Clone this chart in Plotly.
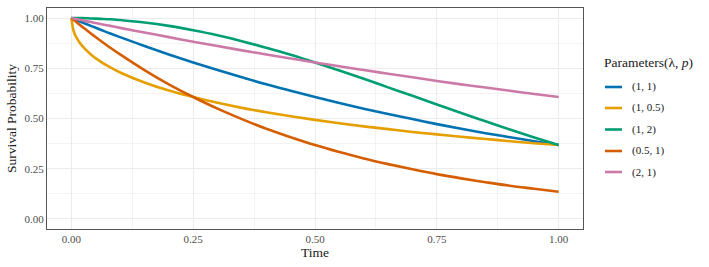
import plotly.graph_objects as go

time = [0, 0.005, 0.01, 0.02, 0.04, 0.06, 0.08, 0.1, 0.15, 0.2, 0.25, 0.3, 0.35, 0.4,
        0.45, 0.5, 0.55, 0.6, 0.65, 0.7, 0.75, 0.8, 0.85, 0.9, 0.95, 1.0]

s_1_1 = [1, .995, .990, .980, .961, .942, .923, .905, .861, .819, .779, .741, .705, .670,
         .638, .607, .577, .549, .522, .497, .472, .449, .427, .407, .387, .368]
s_1_05 = [1, .932, .905, .868, .819, .783, .754, .729, .679, .639, .607, .578, .553, .531,
          .511, .493, .476, .461, .447, .433, .421, .409, .398, .387, .377, .368]
s_1_2 = [1, 1.0, 1.0, 1.0, .998, .996, .994, .990, .978, .961, .939, .914, .885, .852,
         .817, .779, .739, .698, .655, .613, .570, .527, .486, .445, .406, .368]
s_05_1 = [1, .990, .980, .961, .923, .887, .852, .819, .741, .670, .607, .549, .497, .449,
          .407, .368, .333, .301, .273, .247, .223, .202, .183, .165, .150, .135]
s_2_1 = [1, .998, .995, .990, .980, .970, .961, .951, .928, .905, .882, .861, .839, .819,
         .799, .779, .760, .741, .723, .705, .687, .670, .654, .638, .622, .607]

series_names = ["(1, 1)", "(1, 0.5)", "(1, 2)", "(0.5, 1)", "(2, 1)"]
series_values = [s_1_1, s_1_05, s_1_2, s_05_1, s_2_1]
colors = ["#0072B2", "#E69F00", "#009E73", "#D55E00", "#CC79A7"]

x_ticks = [0, 0.25, 0.5, 0.75, 1.0]
x_labels = ["0.00", "0.25", "0.50", "0.75", "1.00"]
y_ticks = [0, 0.25, 0.5, 0.75, 1.0]
y_labels = ["0.00", "0.25", "0.50", "0.75", "1.00"]

W, H = 709, 267
ML, MR, MT, MB = 47, 126, 8, 38
PW, PH = W - ML - MR, H - MT - MB

def px_x(px):
    return (px - ML) / PW

def px_y(py):
    return (H - MB - py) / PH

font_family = "Liberation Serif, Times New Roman, serif"
dark = "#1a1a1a"

fig = go.Figure()
for name, vals, col in zip(series_names, series_values, colors):
    fig.add_trace(go.Scatter(x=time, y=vals, mode="lines", name=name,
                             line=dict(color=col, width=2.6, shape="spline"),
                             showlegend=False))

# manual legend (ggplot style)
annotations = [dict(
    xref="paper", yref="paper", x=px_x(602), y=px_y(62), xanchor="left", yanchor="middle",
    text="Parameters(λ, <i>p</i>)", showarrow=False,
    font=dict(family=font_family, size=13.5, color=dark))]
shapes = []
leg_y = [87, 108, 129.5, 151, 172]
for name, col, ly in zip(series_names, colors, leg_y):
    shapes.append(dict(type="line", xref="paper", yref="paper",
                       x0=px_x(605), x1=px_x(622), y0=px_y(ly), y1=px_y(ly),
                       line=dict(color=col, width=2.6)))
    annotations.append(dict(xref="paper", yref="paper", x=px_x(630), y=px_y(ly),
                            xanchor="left", yanchor="middle", text=name, showarrow=False,
                            font=dict(family=font_family, size=11, color=dark)))

fig.update_layout(
    width=W, height=H,
    margin=dict(l=ML, r=MR, t=MT, b=MB),
    paper_bgcolor="white", plot_bgcolor="white",
    font=dict(family=font_family, color=dark),
    showlegend=False,
    annotations=annotations, shapes=shapes,
    xaxis=dict(
        range=[-0.05, 1.05], tickvals=x_ticks, ticktext=x_labels,
        showgrid=True, gridcolor="#ebebeb", gridwidth=1,
        minor=dict(showgrid=True, gridcolor="#f3f3f3", gridwidth=0.6, dtick=0.125, tick0=0),
        zeroline=False, showline=True, mirror=True, linecolor="#555555", linewidth=1.2,
        tickfont=dict(size=11, color="#4d4d4d", family=font_family), ticks="",
        title=dict(text="Time", font=dict(size=13.5, color=dark, family=font_family), standoff=3),
    ),
    yaxis=dict(
        range=[-0.05, 1.05], tickvals=y_ticks, ticktext=y_labels,
        showgrid=True, gridcolor="#ebebeb", gridwidth=1,
        minor=dict(showgrid=True, gridcolor="#f3f3f3", gridwidth=0.6, dtick=0.125, tick0=0),
        zeroline=False, showline=True, mirror=True, linecolor="#555555", linewidth=1.2,
        tickfont=dict(size=11, color="#4d4d4d", family=font_family), ticks="",
        title=dict(text="Survival Probability", font=dict(size=13.5, color=dark, family=font_family), standoff=4),
    ),
)
fig.write_html("out.html")
